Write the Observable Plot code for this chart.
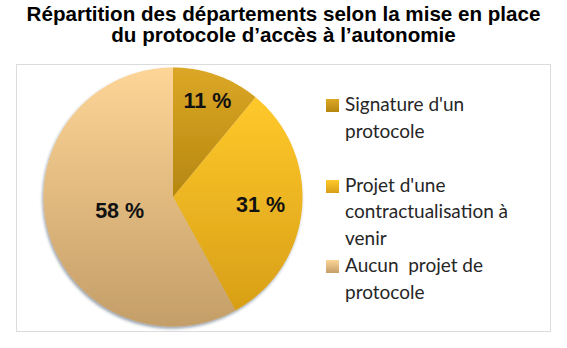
<!DOCTYPE html>
<html>
<head>
<meta charset="utf-8">
<script src="https://cdn.jsdelivr.net/npm/d3@7"></script>
<script src="https://cdn.jsdelivr.net/npm/@observablehq/plot@0.6"></script>
<style>
  html, body { margin: 0; padding: 0; background: #fff; }
  #wrap { position: relative; width: 567px; height: 348px; overflow: hidden; background: #fff; }
  #title { position: absolute; left: 0; top: 3px; width: 567px; text-align: center;
    font-family: "Liberation Sans", Arial, sans-serif; font-weight: bold; font-size: 20.6px;
    line-height: 21px; color: #000; }
  #frame { position: absolute; left: 16px; top: 64px; width: 535px; height: 268px;
    border: 1px solid #dcdcdc; box-sizing: border-box; }
  #chart { position: absolute; left: 0; top: 0; }
  #legend { position: absolute; left: 345px; top: 91px; width: 210px;
    font-family: Lato, "Open Sans", sans-serif; font-size: 19px; line-height: 26.5px; color: #262626; }
  .item { position: relative; height: 80.5px; white-space: pre-wrap; }
  .sw { position: absolute; left: -19px; top: 8px; width: 13px; height: 13px; }
</style>
</head>
<body>
<div id="wrap">
  <div id="frame"></div>
  <div id="chart"></div>
  <div id="title">Répartition des départements selon la mise en place<br>du protocole d’accès à l’autonomie</div>
  <div id="legend"></div>
</div>
<script>
// ---- data ----
const categories = ["Signature d'un protocole", "Projet d'une contractualisation à venir", "Aucun  projet de protocole"];
const legendLines = ["Signature d'un\nprotocole", "Projet d'une\ncontractualisation à\nvenir", "Aucun  projet de\nprotocole"];
const values = [11, 31, 58];
const valueLabels = ["11 %", "31 %", "58 %"];
// ---- palette (gradient top / bottom) ----
const gradTop = ["#dca726", "#ffc92b", "#fdd597"];
const gradBottom = ["#b5870f", "#d89f17", "#c49e68"];

const arcs = d3.pie().sort(null).value(d => d)(values);
const slices = arcs.map((a, i) => {
  const n = Math.max(8, Math.ceil((a.endAngle - a.startAngle) / (Math.PI / 180)));
  const ring = [[0, 0]];
  for (let k = 0; k <= n; k++) {
    const t = a.startAngle + (a.endAngle - a.startAngle) * k / n;
    ring.push([Math.sin(t), -Math.cos(t)]);
  }
  ring.push([0, 0]);
  const theta = a.endAngle - a.startAngle;
  const mid = (a.startAngle + a.endAngle) / 2;
  const d = 1.2 * 4 * Math.sin(theta / 2) / (3 * theta);
  return {
    category: categories[i],
    label: valueLabels[i],
    fill: `url(#grad${i})`,
    lx: d * Math.sin(mid),
    ly: -d * Math.cos(mid),
    geometry: {type: "Polygon", coordinates: [ring]}
  };
});

const cx = 172.5, cy = 196.5, r = 129.5, W = 567, H = 348;
const plot = Plot.plot({
  width: W,
  height: H,
  marginLeft: cx - r,
  marginRight: W - cx - r,
  marginTop: cy - r,
  marginBottom: H - cy - r,
  projection: {type: "identity", domain: {type: "MultiPoint", coordinates: [[-1, -1], [1, 1]]}},
  color: {type: "identity"},
  style: {background: "transparent"},
  marks: [
    Plot.geo(slices, {geometry: d => d.geometry, fill: d => d.fill, stroke: "none"}),
    Plot.text(slices, {x: "lx", y: "ly", text: "label", fill: "#111",
      fontSize: 21.5, fontWeight: "bold", fontFamily: "Liberation Sans, Arial, sans-serif"})
  ]
});

// gradients + shadow
const svg = d3.select(plot);
const defs = svg.insert("defs", ":first-child");
gradTop.forEach((c, i) => {
  const g = defs.append("linearGradient").attr("id", `grad${i}`)
    .attr("x1", 0).attr("y1", 0).attr("x2", 0).attr("y2", 1);
  g.append("stop").attr("offset", "0%").attr("stop-color", c);
  g.append("stop").attr("offset", "100%").attr("stop-color", gradBottom[i]);
});
const f = defs.append("filter").attr("id", "shadow")
  .attr("x", "-10%").attr("y", "-10%").attr("width", "120%").attr("height", "120%");
f.append("feDropShadow").attr("dx", -1).attr("dy", 2).attr("stdDeviation", 1.8)
  .attr("flood-color", "#1a2a40").attr("flood-opacity", 0.45);
svg.select('g[aria-label="geo"]').attr("filter", "url(#shadow)");

document.getElementById("chart").appendChild(plot);

// legend
const legend = document.getElementById("legend");
legendLines.forEach((t, i) => {
  const item = document.createElement("div");
  item.className = "item";
  const sw = document.createElement("div");
  sw.className = "sw";
  sw.style.background = `linear-gradient(${gradTop[i]}, ${gradBottom[i]})`;
  item.appendChild(sw);
  item.appendChild(document.createTextNode(t));
  legend.appendChild(item);
});
</script>
</body>
</html>
